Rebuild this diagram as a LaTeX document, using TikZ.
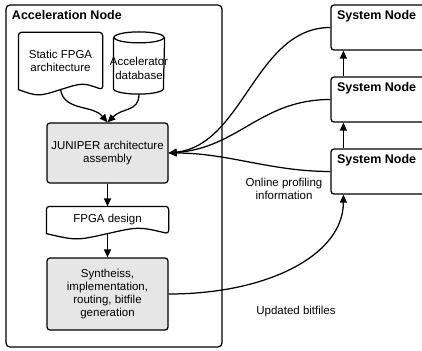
\documentclass[tikz,border=0pt]{standalone}
\usepackage{fontspec}
\setmainfont{Liberation Sans}
\usetikzlibrary{arrows.meta}
\definecolor{boxgray}{HTML}{E6E6E6}
\tikzset{
  txt/.style={font=\fontsize{11.5}{13.3}\selectfont, align=center, inner sep=0pt},
  proc/.style={txt, draw, fill=boxgray, rounded corners=3pt, minimum width=121pt},
  doc/.style={txt, minimum width=#1},
  titletxt/.style={font=\fontsize{12.5}{15}\selectfont\bfseries, inner sep=0pt, anchor=north west},
  sysbox/.style={draw, fill=white, rounded corners=3pt, minimum width=99pt, minimum height=45pt, inner sep=0pt},
  arr/.style={-{Triangle[length=8pt,width=7pt]}},
}
\begin{document}
\begin{tikzpicture}[x=1pt, y=-1pt, line width=1.25pt]
\useasboundingbox (0,0) rectangle (422,350);
\clip (0,0) rectangle (422,350);
\fill[white] (0,0) rectangle (422,350);

% acceleration node container
\node[draw, rounded corners=4pt, minimum width=216pt, minimum height=342pt, inner sep=0pt] (acc) at (114,176) {};
\node[titletxt] (acctitle) at ([xshift=6pt,yshift=-5pt]acc.north west) {Acceleration Node};

% static FPGA architecture (document shape)
\node[doc=83pt, minimum height=56pt] (static) at (60.5,61) {};
\draw[fill=white] (static.south east)
  .. controls ([xshift=-20pt,yshift=7pt]static.south east) .. (static.south)
  .. controls ([xshift=20pt,yshift=-7pt]static.south west) .. (static.south west)
  [rounded corners=3pt] -- (static.north west) -- (static.north east) -- cycle;
\node[txt] at (static) {Static FPGA\\architecture};

% accelerator database (cylinder)
\node[txt, minimum width=50pt, minimum height=50pt] (db) at (139,68.5) {};
\draw[fill=white] ([yshift=5.5pt]db.north west) -- ([yshift=5.5pt]db.south west)
  arc[start angle=180, end angle=360, x radius=25pt, y radius=5.5pt]
  -- ([yshift=5.5pt]db.north east);
\draw[fill=white] ([yshift=5.5pt]db.north) ellipse[x radius=25pt, y radius=5.5pt];
\node[txt] at (db) {Accelerator\\database};

% JUNIPER assembly
\node[proc, minimum height=60pt] (jun) at (107.5,153) {JUNIPER architecture\\assembly};

% FPGA design (document shape)
\node[doc=121pt, minimum height=26pt] (fd) at (107.5,220) {};
\draw[fill=white] (fd.south east)
  .. controls ([xshift=-30pt,yshift=7pt]fd.south east) .. (fd.south)
  .. controls ([xshift=30pt,yshift=-7pt]fd.south west) .. (fd.south west)
  [rounded corners=3pt] -- (fd.north west) -- (fd.north east) -- cycle;
\node[txt] at (fd) {FPGA design};

% synthesis step
\node[proc, minimum height=72pt] (syn) at (107.5,294) {Syntheiss,\\implementation,\\routing, bitfile\\generation};

% system nodes
\node[sysbox] (sn1) at (380.5,27.5) {};
\node[sysbox] (sn2) at (380.5,99.5) {};
\node[sysbox] (sn3) at (380.5,171.5) {};
\node[titletxt] (sn1t) at ([xshift=6pt,yshift=-5pt]sn1.north west) {System Node};
\node[titletxt] (sn2t) at ([xshift=6pt,yshift=-5pt]sn2.north west) {System Node};
\node[titletxt] (sn3t) at ([xshift=6pt,yshift=-5pt]sn3.north west) {System Node};

% flow inside the acceleration node
\draw[arr] (static.south) .. controls +(4,22) and +(-15,-18) .. (jun.north);
\draw[arr] (db.south) .. controls +(0,18) and +(15,-15) .. (jun.north);
\draw[arr] (jun.south) -- (fd.north);
\draw[arr] (fd.south) -- (syn.north);

% chain between system nodes
\draw[arr] ([xshift=13pt]sn3.north west) -- ([xshift=13pt]sn2.south west);
\draw[arr] ([xshift=13pt]sn2.north west) -- ([xshift=13pt]sn1.south west);

% profiling feedback
\draw[arr] (sn1.west) .. controls +(-75,0) and +(75,-8) .. (jun.east);
\draw[arr] (sn2.west) .. controls +(-70,0) and +(70,-5) .. (jun.east);
\draw[arr] (sn3.west) .. controls +(-60,0) and +(60,0) .. (jun.east);

% bitfile deployment
\draw[arr] (syn.east) .. controls +(100,0) and +(0,60) .. ([xshift=13pt]sn3.south west);

% labels
\node[txt] (lprof) at (284,189) {Online profiling\\information};
\node[txt] (lbit) at (296,312) {Updated bitfiles};
\end{tikzpicture}
\end{document}
